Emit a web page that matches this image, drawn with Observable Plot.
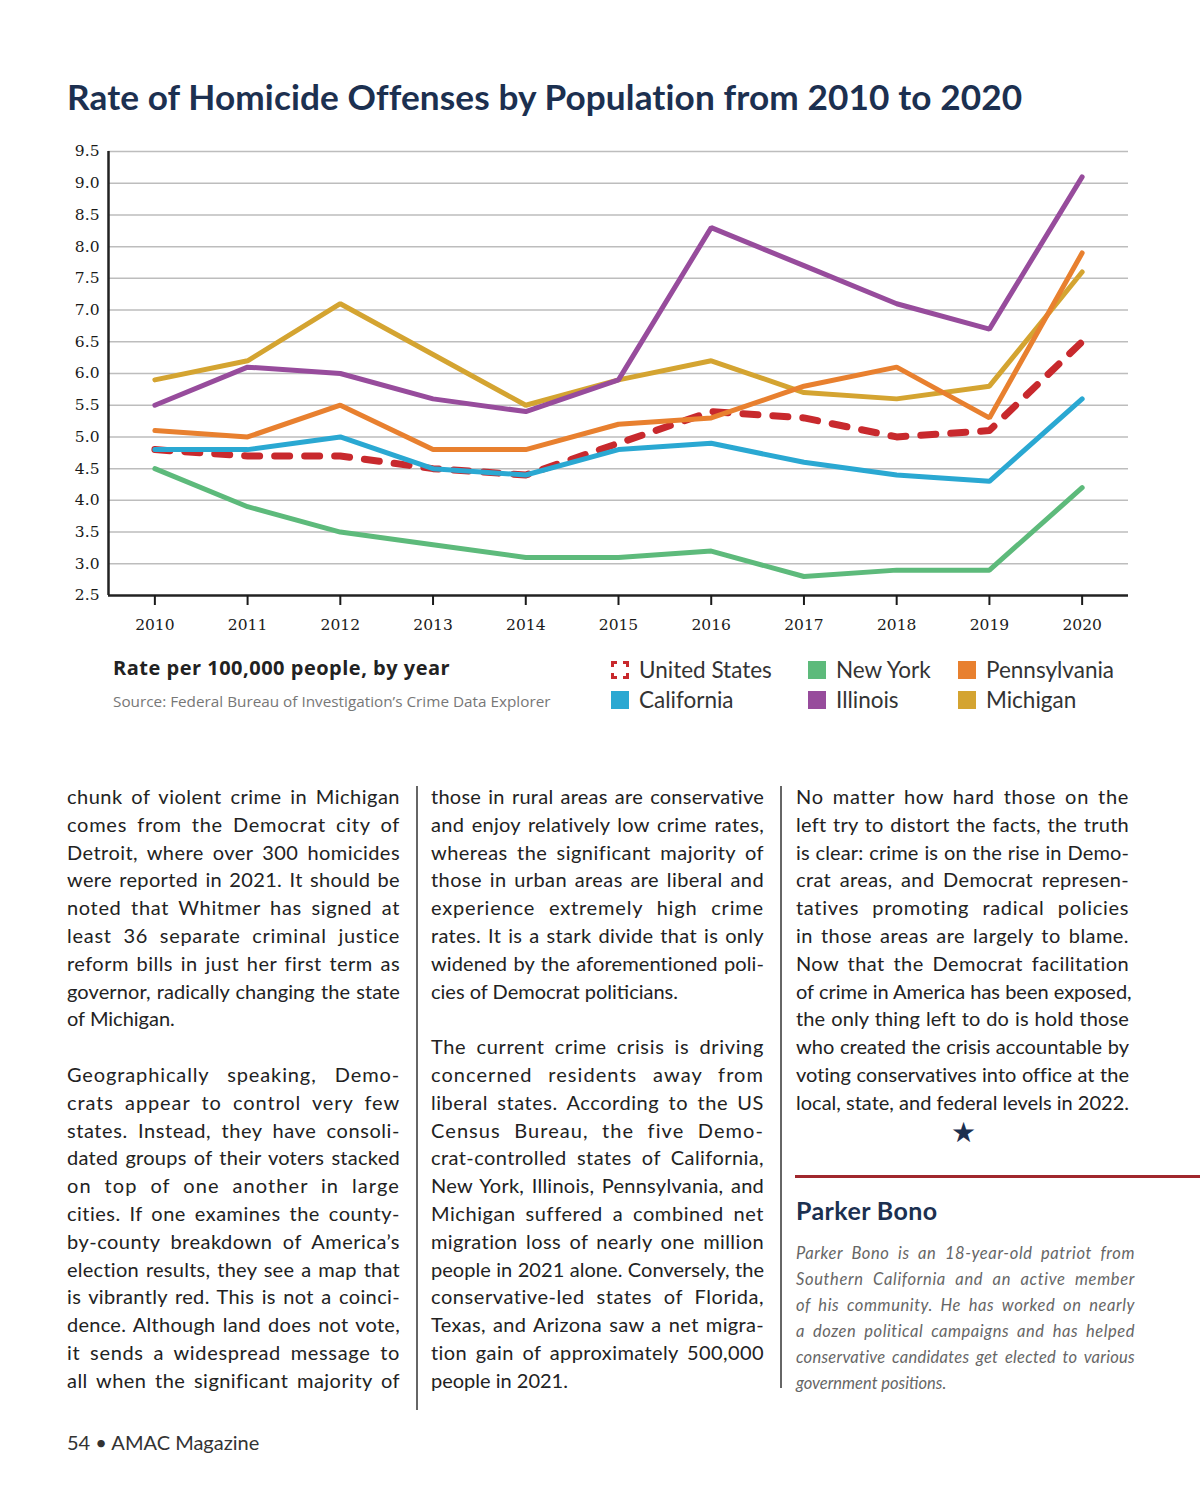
<!DOCTYPE html>
<html>
<head>
<meta charset="utf-8">
<script src="https://cdn.jsdelivr.net/npm/d3@7"></script>
<script src="https://cdn.jsdelivr.net/npm/@observablehq/plot@0.6"></script>
<style>
  html, body { margin: 0; padding: 0; background: #fff; }
  #page { position: relative; width: 1200px; height: 1504px; overflow: hidden; font-family: Lato, "Open Sans", sans-serif; color: #222; }
  .abs { position: absolute; white-space: nowrap; }
  #title { left: 67px; top: 75px; font-size: 35.2px; font-weight: 700; color: #1c3050; letter-spacing: 0.1px; }
  #chart { position: absolute; left: 60px; top: 140px; }
  .legtitle { left: 113px; top: 654px; font-family: "Open Sans", sans-serif; font-size: 20px; font-weight: 700; color: #222; letter-spacing: 0.5px; }
  .source { left: 113px; top: 691px; font-family: "Open Sans", sans-serif; font-size: 15.3px; color: #777; }
  .sw { position: absolute; width: 18px; height: 18px; box-sizing: border-box; }
  .lab { position: absolute; font-size: 22.5px; color: #333; white-space: nowrap; line-height: 26px; }
  .col { position: absolute; width: 333px; font-size: 20px; line-height: 27.8px; color: #222; }
  .col div, .bio div { text-align: justify; text-align-last: justify; white-space: nowrap; }
  .col div { height: 27.8px; }
  .col div.last, .bio div.last { text-align-last: left; }
  .vr { position: absolute; width: 1.5px; background: #666; }
  .bio { position: absolute; left: 796px; top: 1240px; width: 339px; font-size: 16.5px; line-height: 26px; font-style: italic; color: #666; }
</style>
</head>
<body>
<div id="page">
  <div id="title" class="abs">Rate of Homicide Offenses by Population from 2010 to 2020</div>
  <div id="chart"></div>
  <div class="abs legtitle">Rate per 100,000 people, by year</div>
  <div class="abs source">Source: Federal Bureau of Investigation’s Crime Data Explorer</div>
  <div id="legend"></div>

  <div class="col" id="col1" style="left:67px; top:783px;"></div>
  <div class="col" id="col2" style="left:431px; top:783px;"></div>
  <div class="col" id="col3" style="left:796px; top:783px;"></div>

  <div class="vr" style="left:416px; top:786px; height:624px;"></div>
  <div class="vr" style="left:780px; top:786px; height:602px;"></div>

  <div class="abs" style="left:951px; top:1114px; font-size:28px; color:#1c3050;">★</div>
  <div class="abs" style="left:795px; top:1175px; width:405px; height:3px; background:#a0282d;"></div>
  <div class="abs" style="left:796px; top:1195px; font-size:25px; font-weight:700; color:#1c3050; letter-spacing:0.4px;">Parker Bono</div>
  <div class="bio" id="bio"></div>

  <div class="abs" style="left:67px; top:1430px; font-size:20px; color:#333;">54 • AMAC Magazine</div>
</div>
<script>
// ---- Data (rate per 100,000 people) ----
const years = [2010, 2011, 2012, 2013, 2014, 2015, 2016, 2017, 2018, 2019, 2020];
const unitedStates = [4.8, 4.7, 4.7, 4.5, 4.4, 4.9, 5.4, 5.3, 5.0, 5.1, 6.5];
const newYork      = [4.5, 3.9, 3.5, 3.3, 3.1, 3.1, 3.2, 2.8, 2.9, 2.9, 4.2];
const california   = [4.8, 4.8, 5.0, 4.5, 4.4, 4.8, 4.9, 4.6, 4.4, 4.3, 5.6];
const michigan     = [5.9, 6.2, 7.1, 6.3, 5.5, 5.9, 6.2, 5.7, 5.6, 5.8, 7.6];
const illinois     = [5.5, 6.1, 6.0, 5.6, 5.4, 5.9, 8.3, 7.7, 7.1, 6.7, 9.1];
const pennsylvania = [5.1, 5.0, 5.5, 4.8, 4.8, 5.2, 5.3, 5.8, 6.1, 5.3, 7.9];
const yTicks = [2.5, 3.0, 3.5, 4.0, 4.5, 5.0, 5.5, 6.0, 6.5, 7.0, 7.5, 8.0, 8.5, 9.0, 9.5];

const seriesNames  = ["United States", "New York", "California", "Michigan", "Illinois", "Pennsylvania"];
const seriesValues = [unitedStates, newYork, california, michigan, illinois, pennsylvania];
const seriesColors = ["#c8292d", "#5dba7b", "#2aa8d2", "#d4a431", "#974c9c", "#e8802f"];

const rows = [];
seriesNames.forEach((name, i) => years.forEach((yr, j) => rows.push({series: name, year: yr, rate: seriesValues[i][j]})));
const solidRows = rows.filter(d => d.series !== "United States");
const usRows = rows.filter(d => d.series === "United States");

const chart = Plot.plot({
  width: 1080,
  height: 500,
  marginLeft: 48,
  marginRight: 12,
  marginTop: 11,
  marginBottom: 45,
  style: {fontFamily: "'DejaVu Serif', serif", fontSize: "15.5px", color: "#1a1a1a", background: "transparent"},
  x: {domain: [2009.5, 2020.5]},
  y: {domain: [2.5, 9.5]},
  color: {domain: seriesNames, range: seriesColors},
  marks: [
    Plot.ruleY(yTicks.filter(t => t > 2.5), {stroke: "#bdbdbd", strokeWidth: 1.5}),
    Plot.line(usRows, {x: "year", y: "rate", stroke: "series", strokeWidth: 7, strokeDasharray: "15,15", strokeLinecap: "round", strokeLinejoin: "round"}),
    Plot.line(solidRows, {x: "year", y: "rate", z: "series", stroke: "series", strokeWidth: 5, strokeLinecap: "round", strokeLinejoin: "miter"}),
    Plot.ruleY([2.5], {stroke: "#222", strokeWidth: 2.5}),
    Plot.ruleX([2009.5], {stroke: "#222", strokeWidth: 2.5}),
    Plot.axisY({ticks: yTicks, tickSize: 0, tickPadding: 9, tickFormat: d => d.toFixed(1), label: null}),
    Plot.axisX({ticks: years, tickFormat: "d", tickSize: 10, tickPadding: 13, strokeWidth: 2, label: null})
  ]
});
document.getElementById("chart").appendChild(chart);

// ---- Legend ----
const legendItems = [
  {name: "United States", sx: 611, y: 670},
  {name: "California",    sx: 611, y: 700},
  {name: "New York",      sx: 808, y: 670},
  {name: "Illinois",      sx: 808, y: 700},
  {name: "Pennsylvania",  sx: 958, y: 670},
  {name: "Michigan",      sx: 958, y: 700}
];
const legend = document.getElementById("legend");
legendItems.forEach(it => {
  const c = seriesColors[seriesNames.indexOf(it.name)];
  const sw = document.createElement("div");
  sw.className = "sw";
  sw.style.left = it.sx + "px";
  sw.style.top = (it.y - 9) + "px";
  if (it.name === "United States") {
    sw.style.border = "3px dashed " + c;
  } else {
    sw.style.background = c;
  }
  legend.appendChild(sw);
  const lb = document.createElement("div");
  lb.className = "lab";
  lb.style.left = (it.sx + 28) + "px";
  lb.style.top = (it.y - 13) + "px";
  lb.textContent = it.name;
  legend.appendChild(lb);
});

// ---- Article text ----
const col1Lines = [
  "chunk of violent crime in Michigan",
  "comes from the Democrat city of",
  "Detroit, where over 300 homicides",
  "were reported in 2021. It should be",
  "noted that Whitmer has signed at",
  "least 36 separate criminal justice",
  "reform bills in just her first term as",
  "governor, radically changing the state",
  "of Michigan.|",
  "",
  "Geographically speaking, Demo-",
  "crats appear to control very few",
  "states. Instead, they have consoli-",
  "dated groups of their voters stacked",
  "on top of one another in large",
  "cities. If one examines the county-",
  "by-county breakdown of America’s",
  "election results, they see a map that",
  "is vibrantly red. This is not a coinci-",
  "dence. Although land does not vote,",
  "it sends a widespread message to",
  "all when the significant majority of"
];
const col2Lines = [
  "those in rural areas are conservative",
  "and enjoy relatively low crime rates,",
  "whereas the significant majority of",
  "those in urban areas are liberal and",
  "experience extremely high crime",
  "rates. It is a stark divide that is only",
  "widened by the aforementioned poli-",
  "cies of Democrat politicians.|",
  "",
  "The current crime crisis is driving",
  "concerned residents away from",
  "liberal states. According to the US",
  "Census Bureau, the five Demo-",
  "crat-controlled states of California,",
  "New York, Illinois, Pennsylvania, and",
  "Michigan suffered a combined net",
  "migration loss of nearly one million",
  "people in 2021 alone. Conversely, the",
  "conservative-led states of Florida,",
  "Texas, and Arizona saw a net migra-",
  "tion gain of approximately 500,000",
  "people in 2021.|"
];
const col3Lines = [
  "No matter how hard those on the",
  "left try to distort the facts, the truth",
  "is clear: crime is on the rise in Demo-",
  "crat areas, and Democrat represen-",
  "tatives promoting radical policies",
  "in those areas are largely to blame.",
  "Now that the Democrat facilitation",
  "of crime in America has been exposed,",
  "the only thing left to do is hold those",
  "who created the crisis accountable by",
  "voting conservatives into office at the",
  "local, state, and federal levels in 2022."
];
const bioLines = [
  "Parker Bono is an 18-year-old patriot from",
  "Southern California and an active member",
  "of his community. He has worked on nearly",
  "a dozen political campaigns and has helped",
  "conservative candidates get elected to various",
  "government positions.|"
];
// justified lines: share the spare room between letter spacing and word spacing
function fill(id, lines) {
  const el = document.getElementById(id);
  const target = el.getBoundingClientRect().width;
  lines.forEach(t => {
    const d = document.createElement("div");
    let last = false;
    if (t.endsWith("|")) { last = true; t = t.slice(0, -1); }
    d.className = "last"; // measure unjustified first
    const span = document.createElement("span");
    span.textContent = t || "\u00a0";
    d.appendChild(span);
    el.appendChild(d);
    if (!last && t) {
      const w = span.getBoundingClientRect().width;
      const spare = target - w;
      if (spare > 0) {
        const ls = Math.min(0.5 * spare / Math.max(1, t.length - 1), 1.1);
        d.style.letterSpacing = ls.toFixed(2) + "px";
      }
      d.className = "";
    }
  });
}
fill("col1", col1Lines);
fill("col2", col2Lines);
fill("col3", col3Lines);
fill("bio", bioLines);
</script>
</body>
</html>
